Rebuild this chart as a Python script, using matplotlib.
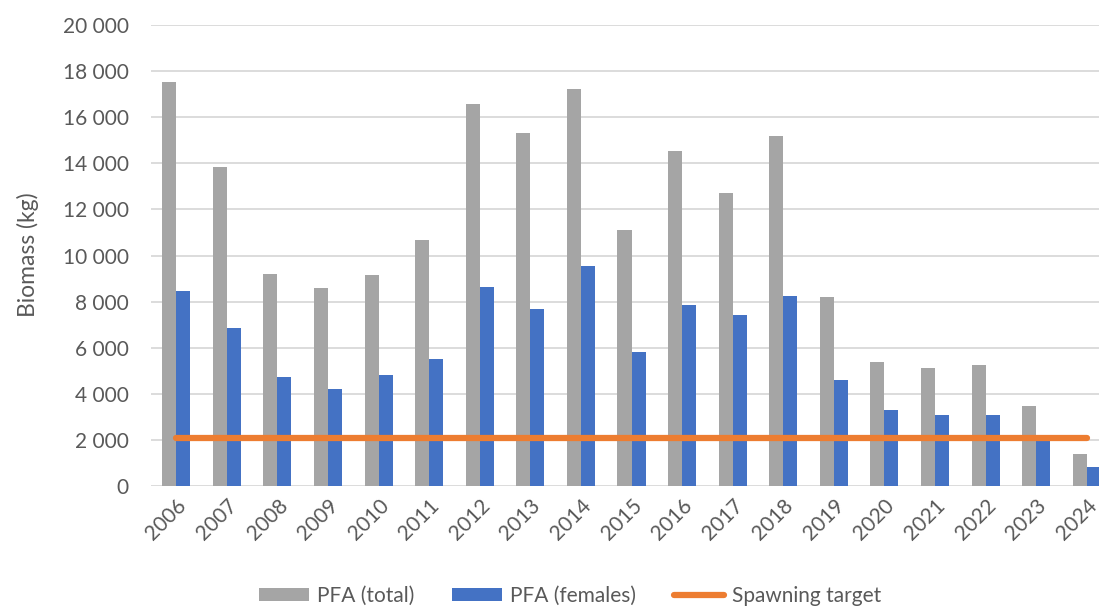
import numpy as np
import matplotlib.pyplot as plt
from matplotlib.ticker import FuncFormatter, MultipleLocator

plt.rcParams['font.family'] = ['Lato', 'DejaVu Sans']

years = ['2006', '2007', '2008', '2009', '2010', '2011', '2012', '2013', '2014', '2015',
         '2016', '2017', '2018', '2019', '2020', '2021', '2022', '2023', '2024']
pfa_total = [17510, 13850, 9200, 8580, 9140, 10670, 16570, 15310, 17240, 11090,
             14520, 12700, 15170, 8210, 5380, 5130, 5240, 3460, 1390]
pfa_females = [8470, 6840, 4740, 4190, 4800, 5520, 8620, 7670, 9540, 5800,
               7850, 7420, 8240, 4580, 3310, 3070, 3090, 1950, 840]
spawning_target = 2070

text_col = '#595959'
gray = '#A5A5A5'
blue = '#4472C4'
orange = '#ED7D31'

fig = plt.figure(figsize=(10.99, 6.07), dpi=100)
# plot area runs past the right edge of the image on purpose
ax = fig.add_axes([151 / 1099, 1 - 486 / 607, 961 / 1099, 461 / 607])

x = np.arange(len(years))
w = 0.277
b1 = ax.bar(x - w / 2, pfa_total, width=w, color=gray, label='PFA (total)', zorder=2)
b2 = ax.bar(x + w / 2, pfa_females, width=w, color=blue, label='PFA (females)', zorder=2)
ln, = ax.plot(x, [spawning_target] * len(years), color=orange, lw=4.5,
              solid_capstyle='round', label='Spawning target', zorder=3)

ax.set_xlim(-0.5, len(years) - 0.5)
ax.set_ylim(0, 20000)
ax.yaxis.set_major_locator(MultipleLocator(2000))
ax.yaxis.set_major_formatter(FuncFormatter(lambda v, p: f'{int(v):,}'.replace(',', ' ')))
ax.grid(axis='y', color='#D9D9D9', lw=1.3, zorder=0)
ax.set_axisbelow(True)
for s in ax.spines.values():
    s.set_visible(False)

ax.set_xticks(x)
ax.set_xticklabels(years, rotation=45, ha='right', rotation_mode='anchor')
ax.tick_params(axis='both', length=0, labelsize=15, labelcolor=text_col)
ax.tick_params(axis='x', pad=7)
ax.tick_params(axis='y', pad=16)

fig.text(28 / 1099, 1 - 255 / 607, 'Biomass (kg)', rotation=90, ha='center', va='center',
         fontsize=16.5, color=text_col)

fig.legend([b1, b2, ln], ['PFA (total)', 'PFA (females)', 'Spawning target'],
           loc='center', bbox_to_anchor=(570 / 1099, 1 - 596 / 607), ncol=3, frameon=False,
           fontsize=15, labelcolor=text_col, handlelength=2.4, handleheight=0.6,
           handletextpad=0.4, columnspacing=1.8)

fig.savefig('out.png', dpi=100)
